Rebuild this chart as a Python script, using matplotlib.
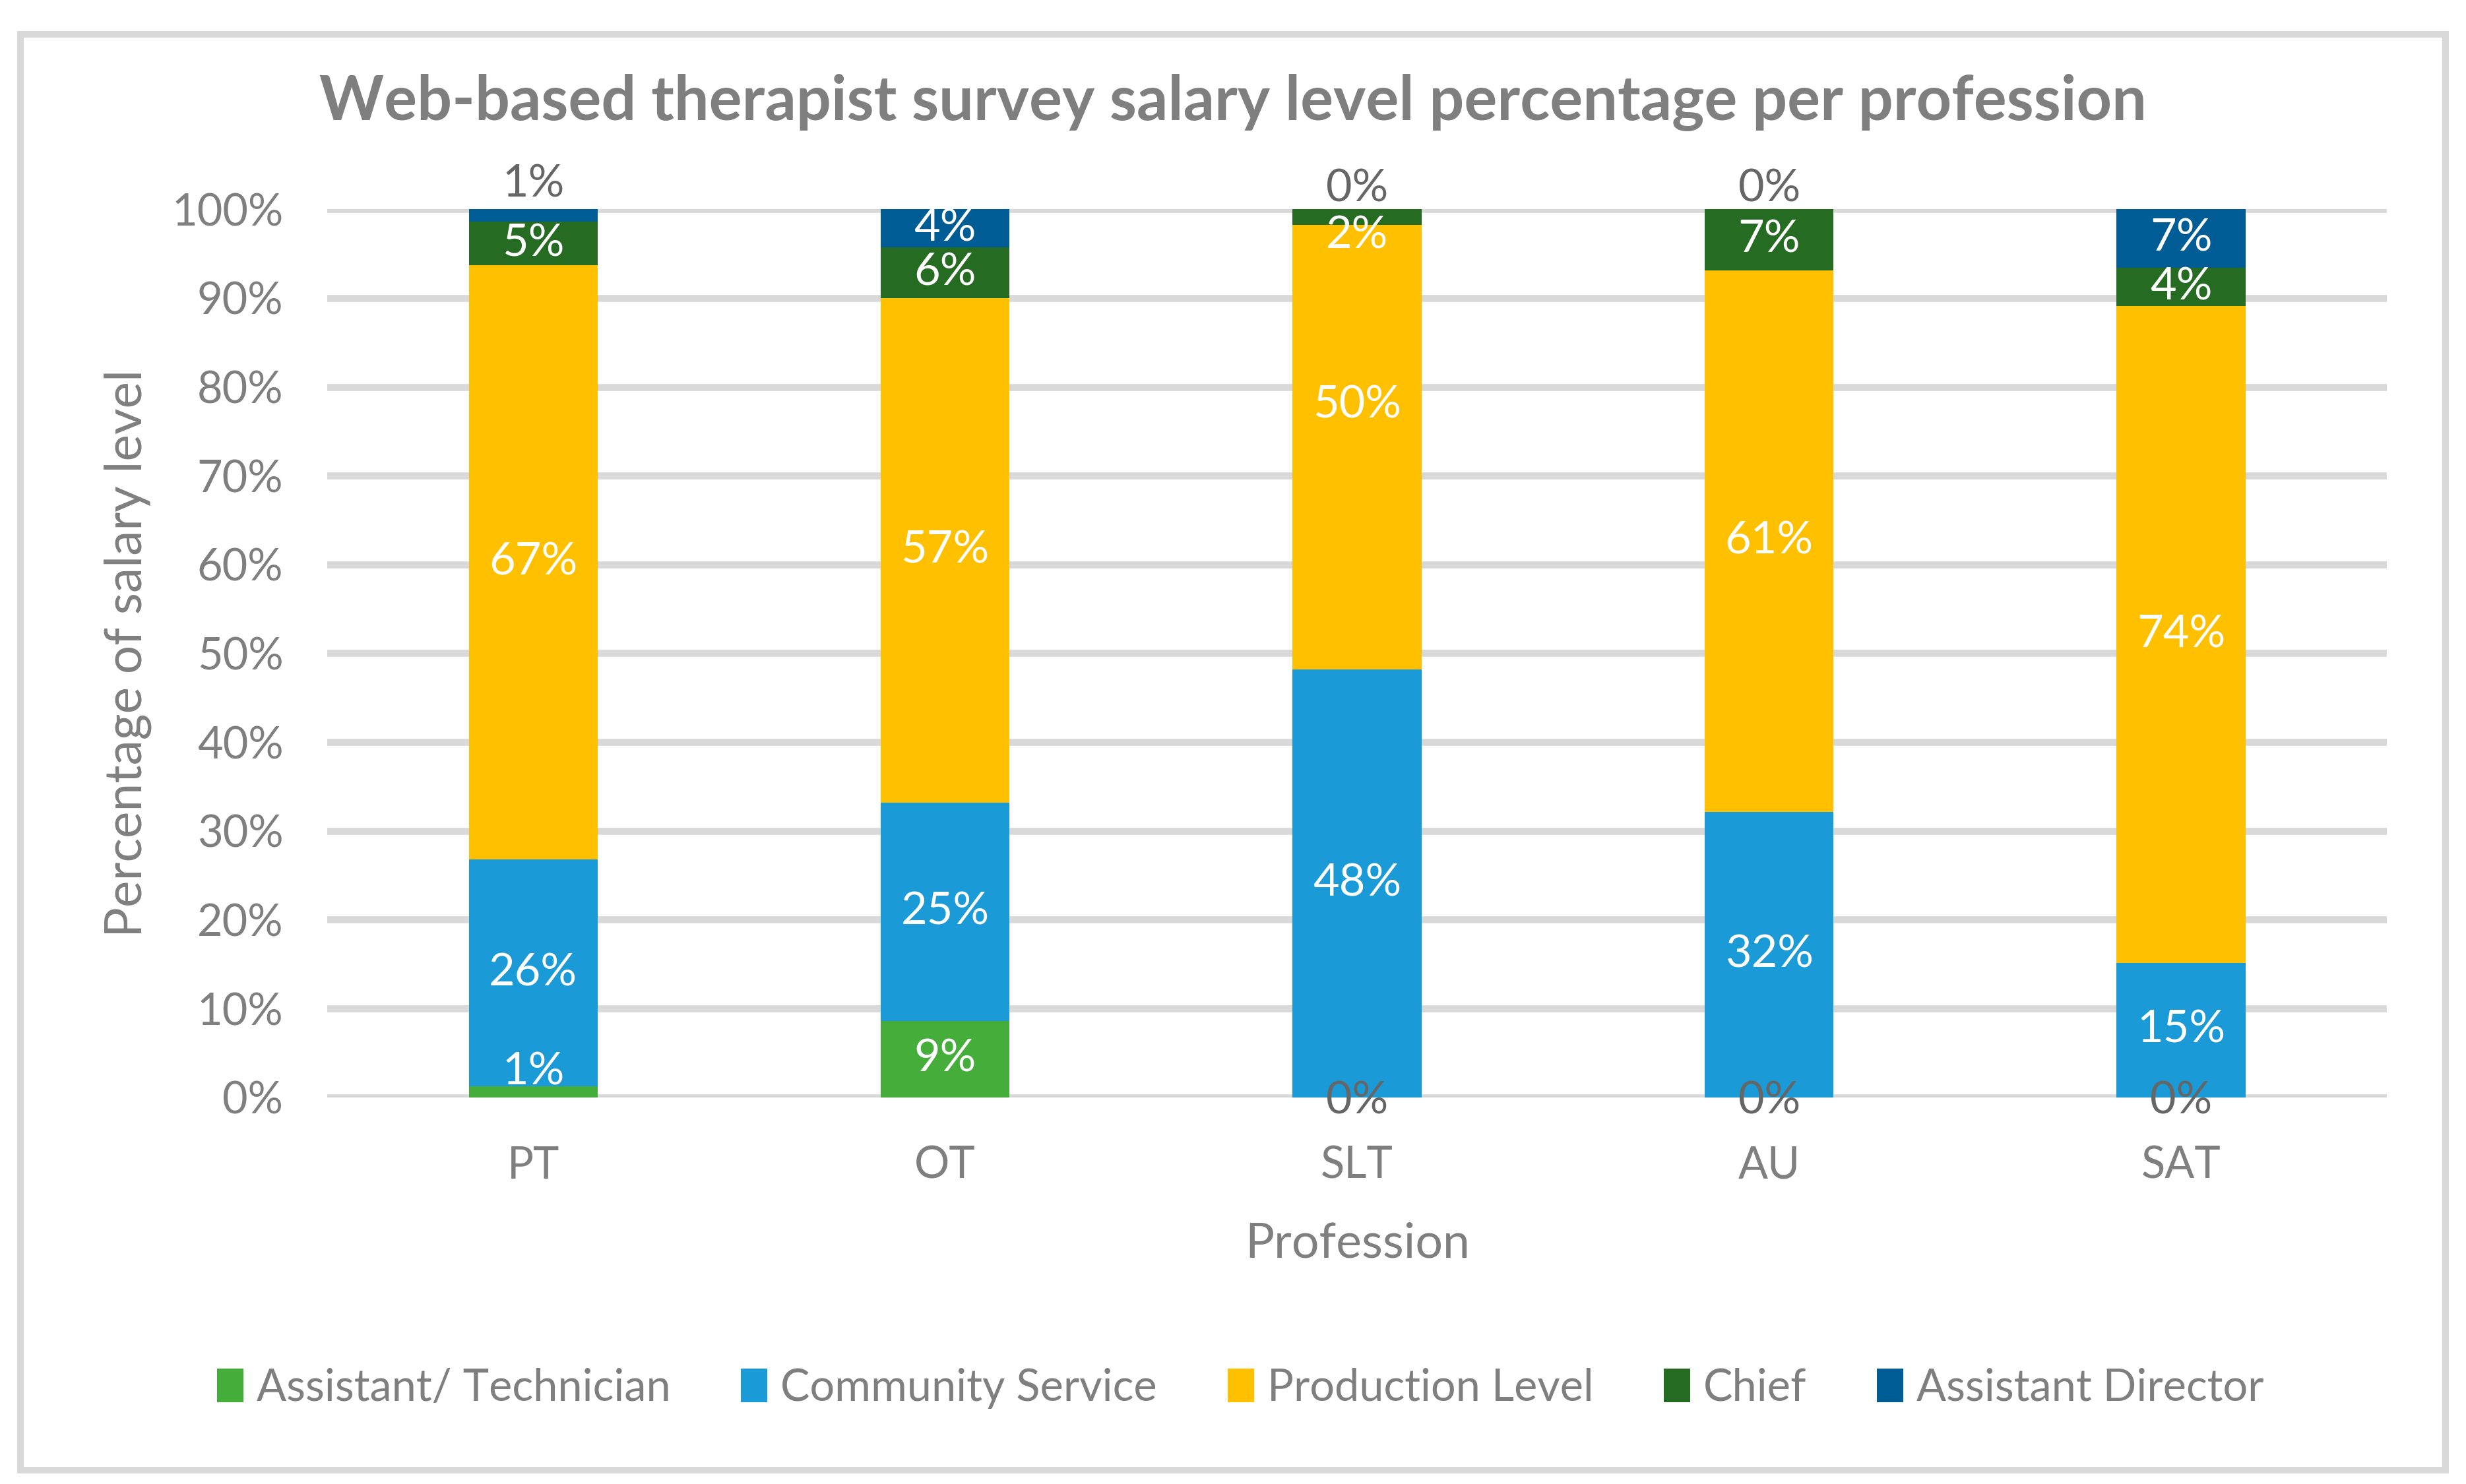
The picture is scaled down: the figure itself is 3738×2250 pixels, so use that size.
import numpy as np
import matplotlib.pyplot as plt
from matplotlib.patches import Rectangle

plt.rcParams['font.family'] = ['Lato', 'DejaVu Sans']

professions = ['PT', 'OT', 'SLT', 'AU', 'SAT']
levels = ['Assistant/ Technician', 'Community Service', 'Production Level',
          'Chief', 'Assistant Director']

# percent of respondents per salary level
assistant_tech = [1.2, 8.6, 0.0, 0.0, 0.0]
community = [25.6, 24.6, 48.2, 32.1, 15.1]
production = [66.9, 56.8, 50.0, 61.0, 74.0]
chief = [4.9, 5.7, 1.8, 6.9, 4.3]
asst_director = [1.4, 4.3, 0.0, 0.0, 6.6]

colors = ['#45AE3A', '#1A9AD6', '#FFC000', '#256B22', '#005C94']

# hand-placed labels (moved by hand in the original too)
label_y = {
    ('PT', 0): 2.8,
    ('PT', 4): 102.8,
    ('SLT', 2): 77.9,
    ('SLT', 3): 97.0,
}

series = [assistant_tech, community, production, chief, asst_director]

fig = plt.figure(figsize=(3738 / 240, 2250 / 240), dpi=240)
ax = fig.add_axes([0.1327, 0.2606, 0.968 - 0.1327, 0.859 - 0.2606])

x = np.arange(len(professions))
bottom = np.zeros(len(professions))
for k, (vals, col, name) in enumerate(zip(series, colors, levels)):
    vals = np.array(vals)
    ax.bar(x, vals, 0.313, bottom=bottom, color=col, label=name, zorder=3)
    for i, v in enumerate(vals):
        yy = bottom[i] + v / 2
        tc = 'white'
        if v < 0.5:
            yy = -0.4 if k == 0 else 102.3
            tc = '#666666'
        if (professions[i], k) in label_y:
            yy = label_y[(professions[i], k)]
            if yy > 100:
                tc = '#666666'
        ax.text(x[i], yy, f'{v:.0f}%', ha='center', va='center',
                fontsize=20.5, color=tc, zorder=4, clip_on=False)
    bottom += vals

ax.set_xlim(-0.5, len(professions) - 0.5)
ax.set_ylim(0, 100)
ax.set_yticks(np.arange(0, 101, 10))
ax.set_yticklabels([f'{t}%' for t in range(0, 101, 10)])
ax.set_xticks(x)
ax.set_xticklabels(professions)
ax.tick_params(axis='both', length=0, labelsize=20, labelcolor='#7F7F7F')
ax.tick_params(axis='y', pad=20)
ax.tick_params(axis='x', pad=22)
ax.grid(axis='y', color='#D9D9D9', linewidth=3.2, zorder=0)
ax.set_axisbelow(True)
for s in ax.spines.values():
    s.set_visible(False)

ax.set_xlabel('Profession', fontsize=22, color='#7F7F7F', labelpad=16)
ax.set_ylabel('Percentage of salary level', fontsize=23, color='#7F7F7F', labelpad=9)

fig.text(0.5, 0.931, 'Web-based therapist survey salary level percentage per profession',
         ha='center', va='center', fontsize=28, fontweight='bold', color='#7F7F7F')

ax.legend(loc='center', bbox_to_anchor=(0.503, 0.0646), bbox_transform=fig.transFigure,
          ncol=5, frameon=False, fontsize=20, labelcolor='#7F7F7F',
          handlelength=0.6, handleheight=0.8, handletextpad=0.3, columnspacing=1.6)

fig.patches.append(Rectangle((0.0083, 0.0095), 0.9834, 0.9672, transform=fig.transFigure,
                             fill=False, edgecolor='#D9D9D9', linewidth=3.0))

fig.savefig('out.png', dpi=240)
